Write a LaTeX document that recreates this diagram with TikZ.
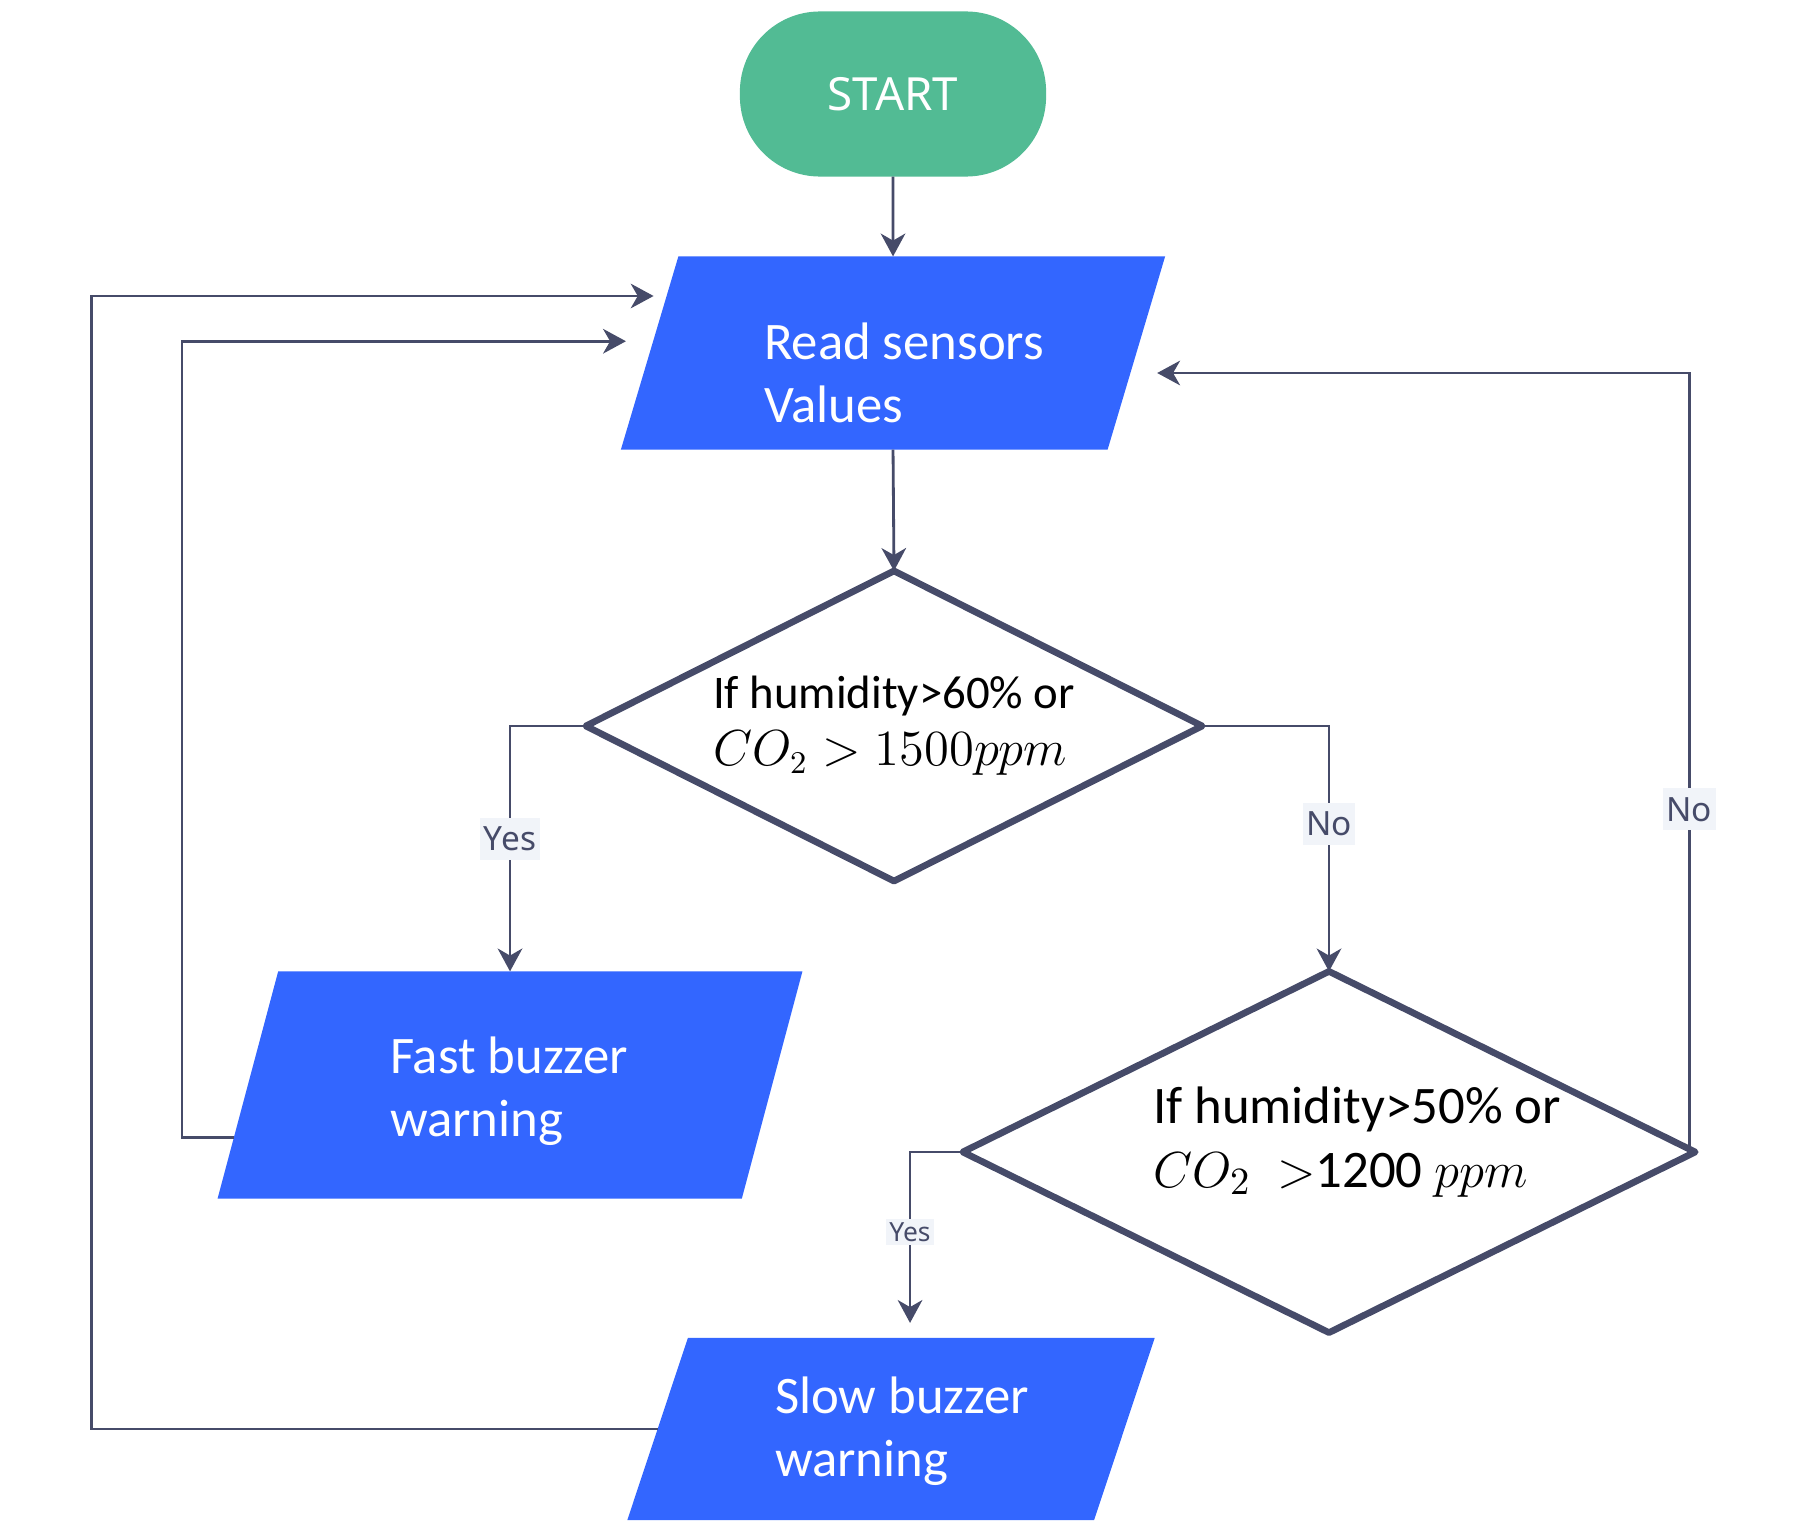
\documentclass[tikz,border=0pt]{standalone}
\usepackage{fontspec}
\setmainfont{Carlito}
\newfontfamily\tagfont{Noto Sans}
\usetikzlibrary{shapes.geometric,arrows.meta,calc}
\definecolor{startgreen}{RGB}{82,187,148}
\definecolor{ioblue}{RGB}{51,102,255}
\definecolor{flowline}{RGB}{70,75,105}
\definecolor{tagfill}{RGB}{241,244,249}

\begin{document}
\begin{tikzpicture}[x=0.01cm,y=-0.01cm,inner sep=0pt,outer sep=0pt,
startbox/.style={rectangle,rounded corners=0.8cm,fill=startgreen,minimum width=3.06cm,minimum height=1.65cm,text=white,font=\tagfont\fontsize{13}{15}\selectfont},
iobox/.style={trapezium,trapezium stretches=true,inner sep=2pt,fill=ioblue,text=white,align=left,font=\fontsize{15}{18}\selectfont},
iotext/.style={text=white,align=left,anchor=west,font=\fontsize{15}{18}\selectfont},
decision/.style={diamond,aspect=2,draw=flowline,line width=1.9pt,line join=round,fill=white,align=left},
flow/.style={draw=flowline,line width=0.8pt,-{Stealth[length=6.5pt,width=7pt,inset=2pt]}},
tag/.style={fill=tagfill,text=flowline,inner xsep=1pt,inner ysep=2.5pt,font=\tagfont\fontsize{9.5}{11}\selectfont},
smalltag/.style={tag,inner sep=1pt,font=\tagfont\fontsize{7.5}{9}\selectfont}]

\useasboundingbox (0,0) rectangle (1808,1527);

% blocks
\node[startbox] (start) at (893,94) {START};
\node[iobox,trapezium left angle=71,trapezium right angle=109,minimum width=5.44cm,minimum height=1.93cm] (read) at (893,353) {\phantom{Read sensors}\\\phantom{Values}};
\node[iotext] (readtxt) at (764,373) {Read sensors\\Values};
\node[decision,minimum width=6.16cm,minimum height=3.10cm,font=\fontsize{13.3}{16.2}\selectfont] (d1) at (894,726) {If humidity>60\% or\\$CO_2 > 1500ppm$};
\node[iobox,trapezium left angle=75,trapezium right angle=105,minimum width=5.87cm,minimum height=2.27cm] (fast) at (510,1085) {\phantom{Fast buzzer}\\\phantom{warning}};
\node[iotext] (fasttxt) at (390,1091) {Fast buzzer\\warning};
\node[decision,minimum width=7.32cm,minimum height=3.61cm] (d2) at (1329,1152) {};
\node[align=left,anchor=west,font=\fontsize{15}{18}\selectfont] (d2txt) at (1153,1142) {If humidity>50\% or\\$CO_2\ >$1200 $ppm$};
\node[iobox,trapezium left angle=72,trapezium right angle=108,minimum width=5.27cm,minimum height=1.82cm] (slow) at (891,1429) {\phantom{Slow buzzer}\\\phantom{warning}};
\node[iotext] (slowtxt) at (775,1431) {Slow buzzer\\warning};

% connectors
\draw[flow] (start.south) -- (read.north);
\draw[flow] (read.south) -- (d1.north);
\draw[flow] (d1.west) -| (fast.north) node[tag,pos=0.73] {Yes};
\draw[flow] (d1.east) -| (d2.north) node[tag,pos=0.70] {No};
\draw[flow] (d2.west) -| ([xshift=0.19cm,yshift=0.15cm]slow.north) node[smalltag,pos=0.735] {Yes};
\draw[flow] ([xshift=-0.06cm]d2.east) -- ++(0,-779) node[tag,pos=0.44] {No} -- ++(-532,0);

% back to reading
\draw[flow] ($(fast.bottom left corner)!0.27!(fast.top left corner)$) -- ++(-52,0) -- ++(0,-796) -- ++(444,0);
\draw[flow] (slow.west) -- ++(-566,0) -- ++(0,-1133) -- ++(562,0);
\end{tikzpicture}
\end{document}
